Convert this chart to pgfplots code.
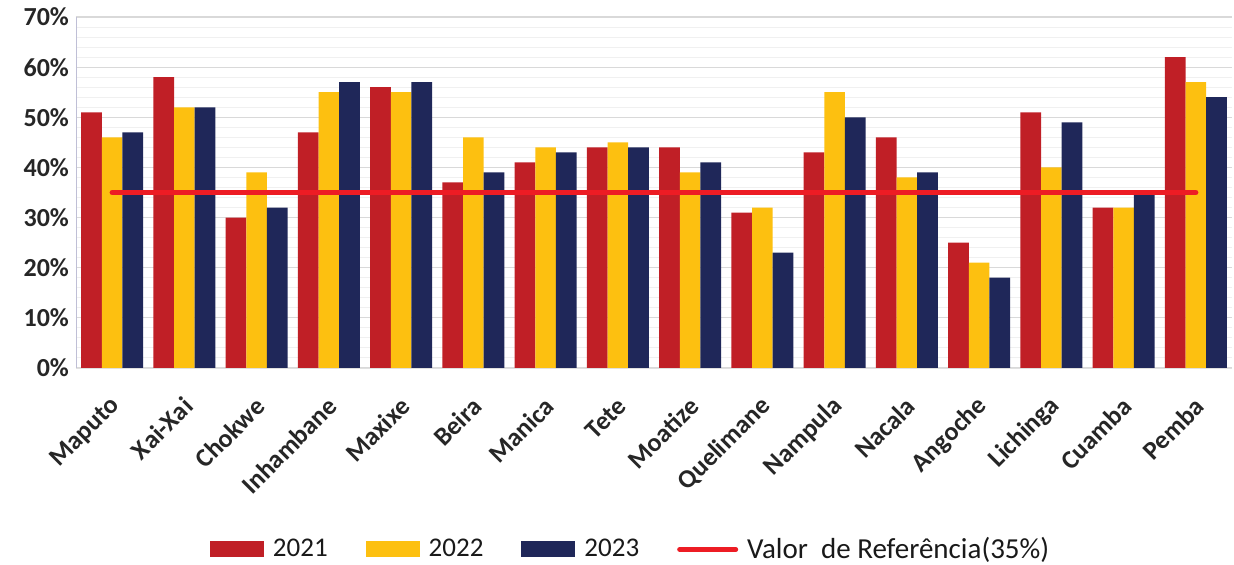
\documentclass[border=0pt]{standalone}
\usepackage{pgfplots}
\pgfplotsset{compat=1.18}
\usepackage{fontspec}
\setmainfont{Carlito}
\definecolor{cRed}{HTML}{C01F26}
\definecolor{cYel}{HTML}{FDC010}
\definecolor{cNav}{HTML}{1F2759}
\definecolor{cLine}{HTML}{ED1C24}
\begin{document}
\begin{tikzpicture}
\begin{axis}[
  scale only axis, width=578pt, height=175.5pt,
  ybar=0pt, bar width=0.286,
  xmin=-0.5, xmax=15.5, ymin=0, ymax=70,
  xtick={0,...,15},
  xticklabels={Maputo,Xai-Xai,Chokwe,Inhambane,Maxixe,Beira,Manica,Tete,Moatize,Quelimane,Nampula,Nacala,Angoche,Lichinga,Cuamba,Pemba},
  ytick={0,10,...,70}, minor ytick={2,4,...,68},
  yticklabel={\pgfmathprintnumber{\tick}\%},
  /pgf/number format/assume math mode=true,
  tick label style={font=\fontsize{13}{15}\selectfont\bfseries, text=black!85},
  xticklabel style={rotate=45, anchor=east, yshift=-13.4pt, xshift=-7.2pt},
  major tick length=0pt, minor tick length=0pt,
  ymajorgrids, yminorgrids,
  major grid style={draw=black!15, line width=0.6pt},
  minor grid style={draw=black!6, line width=0.5pt},
  axis x line*=bottom, axis y line*=left,
  x axis line style={draw=black!12, -},
  y axis line style={draw=blue!35!black!25, -},
  legend columns=4,
  legend style={draw=none, at={(0.4806,-0.517)}, anchor=center,
    font=\fontsize{13.5}{16}\selectfont, text=black!90,
    /tikz/every odd column/.append style={column sep=2.5pt},
    /tikz/every even column/.append style={column sep=17pt}},
  legend image code/.code={\fill[#1] (0pt,-4pt) rectangle (27pt,4pt);},
]
\addplot[fill=cRed, draw=none] coordinates {(0,51)(1,58)(2,30)(3,47)(4,56)(5,37)(6,41)(7,44)(8,44)(9,31)(10,43)(11,46)(12,25)(13,51)(14,32)(15,62)};
\addplot[fill=cYel, draw=none] coordinates {(0,46)(1,52)(2,39)(3,55)(4,55)(5,46)(6,44)(7,45)(8,39)(9,32)(10,55)(11,38)(12,21)(13,40)(14,32)(15,57)};
\addplot[fill=cNav, draw=none] coordinates {(0,47)(1,52)(2,32)(3,57)(4,57)(5,39)(6,43)(7,44)(8,41)(9,23)(10,50)(11,39)(12,18)(13,49)(14,35)(15,54)};
\addplot[sharp plot, cLine, line width=2.5pt, line cap=round, draw=cLine, fill=none,
  legend image code/.code={\draw[cLine, line width=2.5pt, line cap=round] (1pt,0pt) -- (29pt,0pt);}]
  coordinates {(0,35)(15,35)};
\legend{2021,2022,2023,{\fontsize{14.5}{16}\selectfont Valor\ \ de Referência(35\%)}}
\end{axis}
\pgfresetboundingbox
\path (-38pt,-98.5pt) rectangle (579pt,184pt);
\end{tikzpicture}
\end{document}
